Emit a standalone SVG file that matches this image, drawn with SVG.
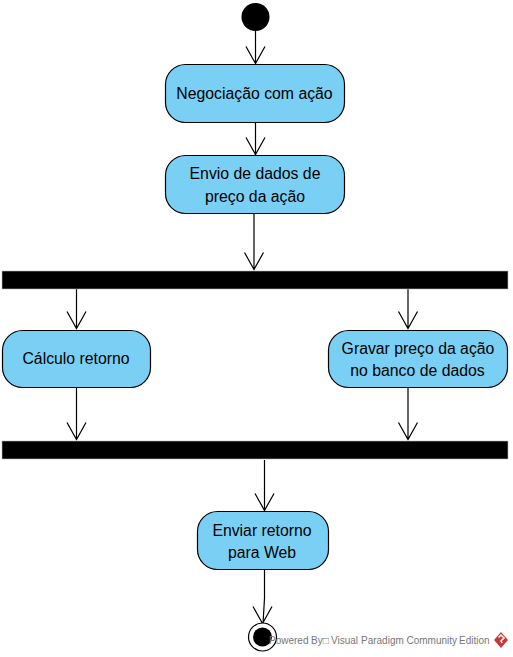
<svg xmlns="http://www.w3.org/2000/svg" width="513" height="657" viewBox="0 0 513 657">
<style>
.act{fill:#7acff5;stroke:#000;stroke-width:1.2}
.bar{fill:#000;stroke:#bbb;stroke-width:.6}
.lbl{font-family:"Liberation Sans",Arial,sans-serif;font-size:15.8px;fill:#000;text-anchor:middle}
.con{fill:none;stroke:#000;stroke-width:1.2}
.wm{font-family:"Liberation Sans",Arial,sans-serif;font-size:10px;fill:#777}
</style>
<rect width="513" height="657" fill="#fff"/>
<g id="connectors">
<path class="con" d="M255.500 31V64M246 46.500L255.500 63.500L265 46.500"/>
<path class="con" d="M255.500 122V155M246 137.500L255.500 154.500L265 137.500"/>
<path class="con" d="M254 213V270M244.500 252.500L254 269.500L263.500 252.500"/>
<path class="con" d="M76.500 289V329M67 311.500L76.500 328.500L86 311.500"/>
<path class="con" d="M408 289V329M398.500 311.500L408 328.500L417.500 311.500"/>
<path class="con" d="M76.500 387V440M67 422.500L76.500 439.500L86 422.500"/>
<path class="con" d="M408 387V440M398.500 422.500L408 439.500L417.500 422.500"/>
<path class="con" d="M264.500 460V511M255 493.500L264.500 510.500L274 493.500"/>
<path class="con" d="M264.500 570V598L263 624M253 606.500L262.500 623.500L272 606.500"/>
</g>
<g id="start"><circle cx="255.500" cy="17" r="14" fill="#000"/></g>
<g id="negociacao"><rect class="act" x="165.500" y="64.500" width="179" height="58" rx="20"/><text class="lbl" x="254.500" y="99">Negociação com ação</text></g>
<g id="envio"><rect class="act" x="165.500" y="155.500" width="179" height="58" rx="20"/><text class="lbl" x="255" y="179">Envio de dados de</text><text class="lbl" x="255" y="202">preço da ação</text></g>
<g id="fork"><rect class="bar" x="2" y="271" width="506" height="18"/></g>
<g id="calculo"><rect class="act" x="2.500" y="330.500" width="148" height="57" rx="20"/><text class="lbl" x="76" y="364">Cálculo retorno</text></g>
<g id="gravar"><rect class="act" x="328.500" y="330.500" width="179" height="57" rx="20"/><text class="lbl" x="418" y="354">Gravar preço da ação</text><text class="lbl" x="417.500" y="376">no banco de dados</text></g>
<g id="join"><rect class="bar" x="2" y="441" width="506" height="18"/></g>
<g id="enviar"><rect class="act" x="197.500" y="511.500" width="131" height="58" rx="20"/><text class="lbl" x="262" y="536">Enviar retorno</text><text class="lbl" x="262" y="558">para Web</text></g>
<g id="end"><circle cx="262.500" cy="637" r="14" fill="#fff" stroke="#000" stroke-width="1.2"/><circle cx="262.500" cy="637" r="9.500" fill="#000"/></g>
<g id="watermark"><text class="wm" y="644"><tspan x="269">Powered</tspan> <tspan x="311">By□</tspan><tspan x="331">Visual</tspan> <tspan x="361">Paradigm</tspan> <tspan x="406.500">Community</tspan> <tspan x="459">Edition</tspan></text>
<path d="M501 632L508 640L501 648L494 640Z" fill="#c8373a"/><path d="M498.500 637.500L501 635L504 638L501 641L502 643" fill="none" stroke="#fff" stroke-width="1.500"/></g>
</svg>
